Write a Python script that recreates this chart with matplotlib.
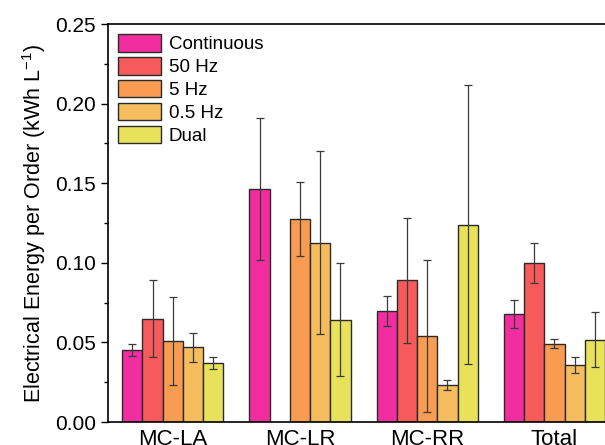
import numpy as np
import matplotlib
matplotlib.use('Agg')
import matplotlib.pyplot as plt

plt.rcParams['font.family'] = ['Liberation Sans', 'DejaVu Sans']
plt.rcParams['mathtext.fontset'] = 'custom'
plt.rcParams['mathtext.rm'] = 'Liberation Sans'
plt.rcParams['mathtext.default'] = 'regular'

groups = ['MC-LA', 'MC-LR', 'MC-RR', 'Total']
series = ['Continuous', '50 Hz', '5 Hz', '0.5 Hz', 'Dual']
colors = ['#F12DA0', '#F65A5A', '#F99C52', '#F6BD5E', '#E8E25A']

# mean values per series (one entry per group), nan = no bar
continuous = [0.0453, 0.1463, 0.0695, 0.0678]
hz50 = [0.0649, np.nan, 0.0890, 0.0999]
hz5 = [0.0508, 0.1276, 0.0540, 0.0493]
hz05 = [0.0468, 0.1125, 0.0231, 0.0357]
dual = [0.0370, 0.0642, 0.1239, 0.0518]

# error bar half-widths
continuous_err = [0.0040, 0.0448, 0.0094, 0.0090]
hz50_err = [0.0243, 0.0, 0.0393, 0.0123]
hz5_err = [0.0278, 0.0233, 0.0479, 0.0030]
hz05_err = [0.0090, 0.0575, 0.0033, 0.0050]
dual_err = [0.0040, 0.0355, 0.0876, 0.0170]

values = [continuous, hz50, hz5, hz05, dual]
errors = [continuous_err, hz50_err, hz5_err, hz05_err, dual_err]

fig = plt.figure(figsize=(6.05, 4.45), dpi=100)
ax = fig.add_axes([108/605, 23/445, 1 - 108/605 + 0.01, 398/445])

x = np.arange(len(groups))
w = 0.159
for j in range(len(series)):
    pos = x + (j - 2) * w
    vals = np.array(values[j], dtype=float)
    errs = np.array(errors[j], dtype=float)
    ax.bar(pos, vals, w, color=colors[j], edgecolor='#2a2a2a', linewidth=1.0,
           label=series[j], zorder=2)
    ok = ~np.isnan(vals)
    ax.errorbar(pos[ok], vals[ok], yerr=errs[ok], fmt='none', ecolor='#3a3a3a',
                elinewidth=0.9, capsize=3, capthick=0.9, zorder=3)

ax.set_xlim(-0.509, 3.445)
ax.set_ylim(0, 0.25)
ax.set_yticks(np.arange(0, 0.26, 0.05))
ax.set_yticklabels(['%.2f' % v for v in np.arange(0, 0.26, 0.05)])
ax.set_yticks(np.arange(0.025, 0.25, 0.05), minor=True)
ax.tick_params(axis='y', which='major', direction='out', length=5, width=1, labelsize=15)
ax.tick_params(axis='y', which='minor', direction='out', length=3, width=1)
ax.set_xticks(x)
ax.set_xticklabels(groups)
ax.tick_params(axis='x', length=0, labelsize=16, pad=5)
ax.spines['right'].set_visible(False)
for s in ['left', 'bottom', 'top']:
    ax.spines[s].set_linewidth(1.2)

ax.set_ylabel('Electrical Energy per Order (kWh L$^{-1}$)', fontsize=15.5, labelpad=5)

ax.legend(loc='upper left', frameon=False, fontsize=13.5, handlelength=2.3,
          handleheight=1.05, labelspacing=0.2, handletextpad=0.4,
          borderaxespad=0.15, bbox_to_anchor=(0.0, 1.0))

fig.savefig('out.png', dpi=100)
